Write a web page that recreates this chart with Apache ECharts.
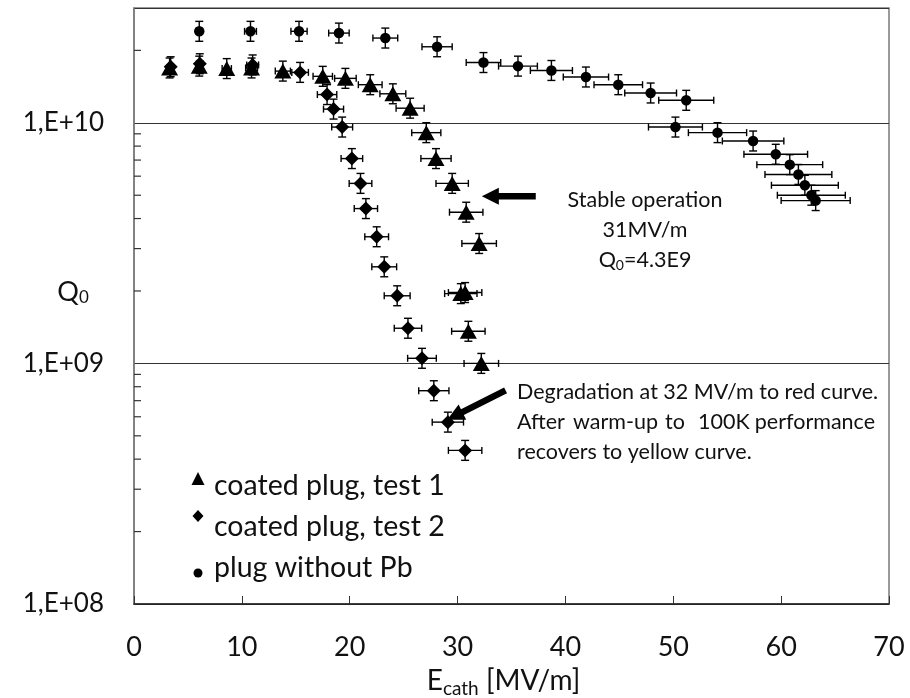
<!DOCTYPE html>
<html>
<head>
<meta charset="utf-8">
<script src="https://cdn.jsdelivr.net/npm/echarts@6/dist/echarts.min.js"></script>
<style>
  html, body { margin: 0; padding: 0; background: #fff; }
  #chart { width: 910px; height: 698px; }
</style>
</head>
<body>
<div id="chart"></div>
<script>
// plug without Pb (circles)
var plainE = [6.05, 10.8, 15.3, 19.0, 23.3, 28.1, 32.4, 35.6, 38.7, 41.9, 44.9, 47.9, 51.2, 50.2, 54.1, 57.4, 59.5, 60.8, 61.6, 62.2, 62.8, 63.2];
var plainQ = [2.4e10, 2.4e10, 2.4e10, 2.36e10, 2.25e10, 2.07e10, 1.78e10, 1.72e10, 1.65e10, 1.55e10, 1.44e10, 1.33e10, 1.24e10, 9.6e9, 9.1e9, 8.4e9, 7.4e9, 6.7e9, 6.1e9, 5.5e9, 5.0e9, 4.75e9];
var plainErr = [0.3, 0.55, 0.75, 0.95, 1.15, 1.4, 1.6, 1.8, 1.95, 2.1, 2.25, 2.4, 2.55, 2.5, 2.7, 2.85, 2.95, 3.05, 3.1, 3.1, 3.15, 3.2];

// coated plug, test 1 (triangles)
var test1E = [3.3, 6.05, 8.6, 10.9, 13.8, 17.5, 19.6, 21.9, 24.0, 25.6, 27.1, 28.0, 29.5, 30.8, 32.0, 30.3, 30.7, 31.0, 32.2];
var test1Q = [1.69e10, 1.72e10, 1.68e10, 1.69e10, 1.64e10, 1.56e10, 1.53e10, 1.44e10, 1.32e10, 1.15e10, 9.1e9, 7.1e9, 5.6e9, 4.25e9, 3.15e9, 1.95e9, 1.97e9, 1.36e9, 1.0e9];
var test1Err = [0.17, 0.3, 0.43, 0.55, 0.7, 0.9, 1.0, 1.1, 1.2, 1.3, 1.35, 1.4, 1.5, 1.55, 1.6, 1.5, 1.55, 1.55, 1.6];

// coated plug, test 2 (diamonds)
var test2E = [3.4, 6.1, 11.0, 15.4, 17.9, 18.5, 19.3, 20.2, 21.0, 21.5, 22.5, 23.2, 24.4, 25.4, 26.7, 27.8, 29.1, 30.7];
var test2Q = [1.71e10, 1.76e10, 1.74e10, 1.62e10, 1.31e10, 1.14e10, 9.6e9, 7.1e9, 5.6e9, 4.4e9, 3.36e9, 2.52e9, 1.91e9, 1.40e9, 1.05e9, 7.7e8, 5.7e8, 4.35e8];
var test2Err = [0.17, 0.3, 0.55, 0.77, 0.9, 0.93, 0.97, 1.0, 1.05, 1.08, 1.1, 1.15, 1.2, 1.27, 1.33, 1.4, 1.45, 1.55];

var qRelErr = 0.1; // Q0 error bars, about +-10%

var minorTicks = [2e8, 3e8, 4e8, 5e8, 6e8, 7e8, 8e8, 9e8, 2e9, 3e9, 4e9, 5e9, 6e9, 7e9, 8e9, 9e9, 2e10];

// arrows: [E tail, Q tail, E tip, Q tip]
var arrows = [[37.25, 4.95e9, 32.25, 4.95e9], [34.45, 7.72e8, 29.04, 5.83e8]];

var FONT = 'Lato';
var TXT = '#111';
var NOTE = '21.5px ' + FONT;

var zip = function(e, q, err) {
  var out = [];
  for (var i = 0; i < e.length; i++) out.push([e[i], q[i], err ? err[i] : 0]);
  return out;
};

var errRender = function(params, api) {
  var x = api.value(0), y = api.value(1), dx = api.value(2);
  var l = api.coord([x - dx, y]), r = api.coord([x + dx, y]);
  var t = api.coord([x, y * (1 + qRelErr)]), b = api.coord([x, y / (1 + qRelErr)]);
  var st = { stroke: '#000', lineWidth: 1.4 };
  var ln = function(x1, y1, x2, y2) {
    return { type: 'line', shape: { x1: x1, y1: y1, x2: x2, y2: y2 }, style: st };
  };
  return {
    type: 'group',
    children: [
      ln(l[0], l[1], r[0], r[1]),
      ln(l[0], l[1] - 3.5, l[0], l[1] + 3.5),
      ln(r[0], r[1] - 3.5, r[0], r[1] + 3.5),
      ln(t[0], t[1], b[0], b[1]),
      ln(t[0] - 4, t[1], t[0] + 4, t[1]),
      ln(b[0] - 4, b[1], b[0] + 4, b[1])
    ]
  };
};

var errSeries = function(e, q, err) {
  return {
    type: 'custom',
    renderItem: errRender,
    data: zip(e, q, err),
    encode: { x: 0, y: 1 },
    silent: true,
    z: 2
  };
};

var chart = echarts.init(document.getElementById('chart'));

var option = {
  backgroundColor: '#fff',
  animation: false,
  textStyle: { fontFamily: FONT, color: TXT },
  grid: {
    left: 134, right: 21, top: 8, bottom: 94,
    containLabel: false,
    outerBoundsMode: 'none',
    show: true, borderColor: '#7a7a7a', borderWidth: 1.5
  },
  legend: {
    orient: 'vertical',
    left: 186, top: 463,
    itemWidth: 14, itemHeight: 36,
    itemGap: 5,
    selectedMode: false,
    textStyle: { fontFamily: FONT, fontSize: 28.5, color: TXT, lineHeight: 36, padding: [0, 0, 0, 4] },
    data: [
      { name: 'coated plug, test 1', icon: 'path://M0,0M14,36M0.5,17L7,4L13.5,17Z' },
      { name: 'coated plug, test 2', icon: 'path://M0,0M14,36M7,1L12.5,7L7,13L1.5,7Z' },
      { name: 'plug without Pb', icon: 'path://M0,0M14,36M2.5,23A4.5,4.5,0,1,1,11.5,23A4.5,4.5,0,1,1,2.5,23Z' }
    ]
  },
  xAxis: {
    type: 'value',
    min: 0, max: 70, interval: 10,
    name: '{m|E}{s|cath}{m| [MV/m]}',
    nameLocation: 'middle',
    nameGap: 60,
    nameTextStyle: {
      padding: [0, 16, 0, 0],
      rich: {
        m: { fontFamily: FONT, fontSize: 28, color: TXT },
        s: { fontFamily: FONT, fontSize: 19, color: TXT, padding: [15, 0, 0, 0] }
      }
    },
    axisLine: { lineStyle: { color: '#222', width: 1.5 } },
    axisTick: { inside: true, length: 8, lineStyle: { color: '#333' } },
    axisLabel: { fontFamily: FONT, fontSize: 27, color: TXT, margin: 30 },
    splitLine: { show: false }
  },
  yAxis: {
    type: 'log',
    logBase: 10,
    min: 1e8, max: 3e10,
    axisLine: { show: true, lineStyle: { color: '#7a7a7a', width: 1.5 } },
    axisTick: { show: false },
    axisLabel: {
      fontFamily: FONT, fontSize: 26, color: TXT, margin: 30,
      showMaxLabel: false,
      formatter: function(v) {
        var p = Math.round(Math.log10(v));
        return '1,E+' + (p < 10 ? '0' + p : p);
      }
    },
    splitLine: { show: true, lineStyle: { color: '#333', width: 1.2 } }
  },
  series: [
    {
      type: 'custom',
      silent: true,
      clip: false,
      data: minorTicks.map(function(v) { return [0, v]; }),
      encode: { x: 0, y: 1 },
      renderItem: function(params, api) {
        var p = api.coord([api.value(0), api.value(1)]);
        return { type: 'line', shape: { x1: p[0], y1: p[1], x2: p[0] + 7, y2: p[1] }, style: { stroke: '#333', lineWidth: 1.2 } };
      },
      z: 1
    },
    errSeries(plainE, plainQ, plainErr),
    errSeries(test2E, test2Q, test2Err),
    errSeries(test1E, test1Q, test1Err),
    {
      name: 'plug without Pb',
      type: 'scatter',
      symbol: 'circle',
      symbolSize: 10.5,
      itemStyle: { color: '#000', opacity: 1 },
      data: zip(plainE, plainQ),
      z: 3
    },
    {
      name: 'coated plug, test 2',
      type: 'scatter',
      symbol: 'diamond',
      symbolSize: 14,
      itemStyle: { color: '#000', opacity: 1 },
      data: zip(test2E, test2Q),
      z: 4
    },
    {
      name: 'coated plug, test 1',
      type: 'scatter',
      symbol: 'triangle',
      symbolSize: [17, 15],
      itemStyle: { color: '#000', opacity: 1 },
      data: zip(test1E, test1Q),
      z: 5
    },
    {
      type: 'custom',
      silent: true,
      data: arrows,
      encode: { x: [0, 2], y: [1, 3] },
      renderItem: function(params, api) {
        var a = api.coord([api.value(0), api.value(1)]);
        var b = api.coord([api.value(2), api.value(3)]);
        var dx = b[0] - a[0], dy = b[1] - a[1];
        var len = Math.sqrt(dx * dx + dy * dy);
        var ux = dx / len, uy = dy / len, nx = -uy, ny = ux;
        var hl = 17, hw = 8.5, sw = 3.2;
        var bx = b[0] - ux * hl, by = b[1] - uy * hl;
        var pts = [
          [a[0] + nx * sw, a[1] + ny * sw],
          [bx + nx * sw, by + ny * sw],
          [bx + nx * hw, by + ny * hw],
          [b[0], b[1]],
          [bx - nx * hw, by - ny * hw],
          [bx - nx * sw, by - ny * sw],
          [a[0] - nx * sw, a[1] - ny * sw]
        ];
        return { type: 'polygon', shape: { points: pts }, style: { fill: '#000' } };
      },
      z: 6
    }
  ],
  graphic: [
    {
      type: 'text', x: 73, y: 292,
      style: {
        text: '{m|Q}{s|0}', textAlign: 'center', textVerticalAlign: 'middle',
        rich: {
          m: { fontFamily: FONT, fontSize: 27, fill: TXT },
          s: { fontFamily: FONT, fontSize: 17, fill: TXT, padding: [12, 0, 0, 0] }
        }
      }
    },
    { type: 'text', x: 645, y: 200, style: { text: 'Stable operation', font: NOTE, fill: TXT, textAlign: 'center', textVerticalAlign: 'middle' } },
    { type: 'text', x: 645, y: 230, style: { text: '31MV/m', font: NOTE, fill: TXT, textAlign: 'center', textVerticalAlign: 'middle' } },
    {
      type: 'text', x: 645, y: 260,
      style: {
        text: '{m|Q}{s|0}{m|=4.3E9}', textAlign: 'center', textVerticalAlign: 'middle',
        rich: {
          m: { fontFamily: FONT, fontSize: 21.5, fill: TXT },
          s: { fontFamily: FONT, fontSize: 14, fill: TXT, padding: [10, 0, 0, 0] }
        }
      }
    },
    { type: 'text', x: 517, y: 392, style: { text: 'Degradation at 32 MV/m to red curve.', font: NOTE, fill: TXT, textVerticalAlign: 'middle' } },
    { type: 'text', x: 517, y: 422, style: { text: 'After', font: NOTE, fill: TXT, textVerticalAlign: 'middle' } },
    { type: 'text', x: 573, y: 422, style: { text: 'warm-up', font: NOTE, fill: TXT, textVerticalAlign: 'middle' } },
    { type: 'text', x: 665, y: 422, style: { text: 'to', font: NOTE, fill: TXT, textVerticalAlign: 'middle' } },
    { type: 'text', x: 698, y: 422, style: { text: '100K', font: NOTE, fill: TXT, textVerticalAlign: 'middle' } },
    { type: 'text', x: 875, y: 422, style: { text: 'performance', font: NOTE, fill: TXT, textAlign: 'right', textVerticalAlign: 'middle' } },
    { type: 'text', x: 517, y: 452, style: { text: 'recovers to yellow curve.', font: NOTE, fill: TXT, textVerticalAlign: 'middle' } }
  ]
};

chart.setOption(option);
</script>
</body>
</html>
